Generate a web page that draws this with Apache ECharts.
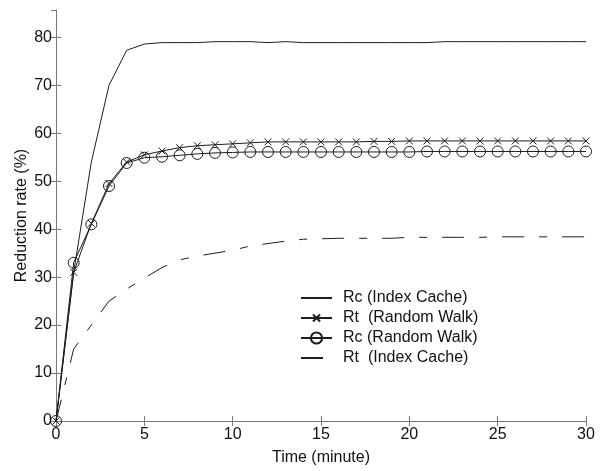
<!DOCTYPE html>
<html lang="en">
<head>
    <meta http-equiv="content-type" content="text/html;charset=utf-8">
    <title>Reduction rate</title>
    <script src="https://cdn.jsdelivr.net/npm/echarts@6/dist/echarts.min.js"></script>
    <style>
        html, body { margin: 0; padding: 0; background: #fff; }
        #main { width: 600px; height: 471px; }
    </style>
</head>
<body>
    <div id="main"></div>
    <script>
        // time axis (minutes), one sample per minute
        var minutes = [0,1,2,3,4,5,6,7,8,9,10,11,12,13,14,15,16,17,18,19,20,21,22,23,24,25,26,27,28,29,30];

        var rcIndexCache = [0,31,54,70,77.3,78.6,78.9,78.9,78.9,79.1,79.1,79.1,78.9,79.1,78.9,78.9,78.9,78.9,78.9,78.9,78.9,78.9,79.1,79.1,79.1,79.1,79.1,79.1,79.1,79.1,79.1];
        var rtRandomWalk = [0,31,41.2,49.5,54,55.5,56.3,57,57.4,57.6,57.8,58,58.2,58.2,58.2,58.2,58.2,58.2,58.3,58.3,58.4,58.4,58.4,58.4,58.4,58.4,58.4,58.4,58.4,58.4,58.4];
        var rcRandomWalk = [0,33,41,49,53.8,54.9,55.1,55.4,55.7,55.9,56,56.1,56.1,56.1,56.1,56.1,56.1,56.1,56.1,56.1,56.1,56.2,56.2,56.2,56.2,56.2,56.2,56.2,56.2,56.2,56.2];
        var rtIndexCache = [0,15,20,25,27.5,29.8,32,33.6,34.4,35,35.6,36.5,37,37.5,37.9,38,38.1,38.1,38.1,38.1,38.3,38.3,38.3,38.3,38.3,38.4,38.4,38.4,38.4,38.4,38.4];

        var seriesNames = ['Rc (Index Cache)', 'Rt  (Random Walk)', 'Rc (Random Walk)', 'Rt  (Index Cache)'];
        var xTicks = [0, 5, 10, 15, 20, 25, 30];

        function pairs(vals) {
            return minutes.map(function (m, i) { return [m, vals[i]]; });
        }

        var ink = '#1e1e1e';
        var frame = '#7a7a7a';
        var font = 'Arial, "Liberation Sans", sans-serif';
        // x marker, padded with move-to points so it draws smaller than its box
        var crossPath = 'path://M-3 -3M0 0L10 10M10 0L0 10M13 13';

        var myChart = echarts.init(document.getElementById('main'));

        var option = {
            animation: false,
            backgroundColor: '#fff',
            grid: { left: 56, right: 14, top: 10, bottom: 41 },
            legend: {
                orient: 'vertical',
                left: 295,
                top: 285,
                itemWidth: 31,
                itemHeight: 14,
                itemGap: 4,
                data: [
                    { name: seriesNames[0], itemStyle: { opacity: 0 } },
                    { name: seriesNames[1] },
                    { name: seriesNames[2] },
                    { name: seriesNames[3], itemStyle: { opacity: 0 } }
                ],
                textStyle: { fontFamily: font, fontSize: 16, color: '#111', padding: [0, 0, 0, 6] }
            },
            xAxis: [
                {
                    type: 'value', min: 0, max: 30, interval: 5,
                    name: 'Time (minute)', nameLocation: 'middle', nameGap: 29, nameMoveOverlap: false,
                    nameTextStyle: { fontFamily: font, fontSize: 16, color: '#111' },
                    axisLine: { lineStyle: { color: frame, width: 1 } },
                    axisTick: { inside: true, length: 5, lineStyle: { color: frame } },
                    axisLabel: { fontFamily: font, fontSize: 16, color: '#111', margin: 6,
                        formatter: function (v) { return xTicks.indexOf(v) >= 0 ? String(v) : ''; } },
                    splitLine: { show: false }
                },
                {
                    type: 'value', position: 'top', min: 0, max: 30, interval: 5,
                    axisLine: { lineStyle: { color: frame, width: 1 } },
                    axisTick: { inside: true, length: 5, lineStyle: { color: frame } },
                    axisLabel: { show: false },
                    splitLine: { show: false }
                }
            ],
            yAxis: [
                {
                    type: 'value', min: 0, max: 85.7, interval: 10,
                    name: 'Reduction rate (%)', nameLocation: 'middle', nameGap: 26, nameMoveOverlap: false,
                    nameTextStyle: { fontFamily: font, fontSize: 16, color: '#111' },
                    axisLine: { show: true, lineStyle: { color: frame, width: 1 } },
                    axisTick: { show: true, inside: true, length: 5, lineStyle: { color: frame } },
                    axisLabel: { fontFamily: font, fontSize: 16, color: '#111', margin: 4, showMaxLabel: false,
                        formatter: function (v) { return v % 10 === 0 ? String(v) : ''; } },
                    splitLine: { show: false }
                },
                {
                    type: 'value', position: 'right', min: 0, max: 85.7, interval: 10,
                    axisLine: { show: true, lineStyle: { color: frame, width: 1 } },
                    axisTick: { show: true, inside: true, length: 5, lineStyle: { color: frame } },
                    axisLabel: { show: false },
                    splitLine: { show: false }
                }
            ],
            series: [
                {
                    name: seriesNames[0], type: 'line', data: pairs(rcIndexCache),
                    showSymbol: false, symbol: 'none',
                    lineStyle: { color: ink, width: 1 },
                    itemStyle: { color: ink }
                },
                {
                    name: seriesNames[1], type: 'line', data: pairs(rtRandomWalk),
                    symbol: crossPath, symbolSize: 11,
                    lineStyle: { color: ink, width: 1 },
                    itemStyle: { color: 'transparent', borderColor: ink, borderWidth: 1 }
                },
                {
                    name: seriesNames[2], type: 'line', data: pairs(rcRandomWalk),
                    symbol: 'circle', symbolSize: 11,
                    lineStyle: { color: ink, width: 1 },
                    itemStyle: { color: 'transparent', borderColor: ink, borderWidth: 1 }
                },
                {
                    name: seriesNames[3], type: 'line', data: pairs(rtIndexCache),
                    showSymbol: false, symbol: 'none',
                    lineStyle: { color: ink, width: 1, type: [22, 15, 8, 15] },
                    itemStyle: { color: ink }
                }
            ]
        };

        myChart.setOption(option);
        window.onresize = function () {
            myChart.resize();
        };
    </script>
</body>
</html>
